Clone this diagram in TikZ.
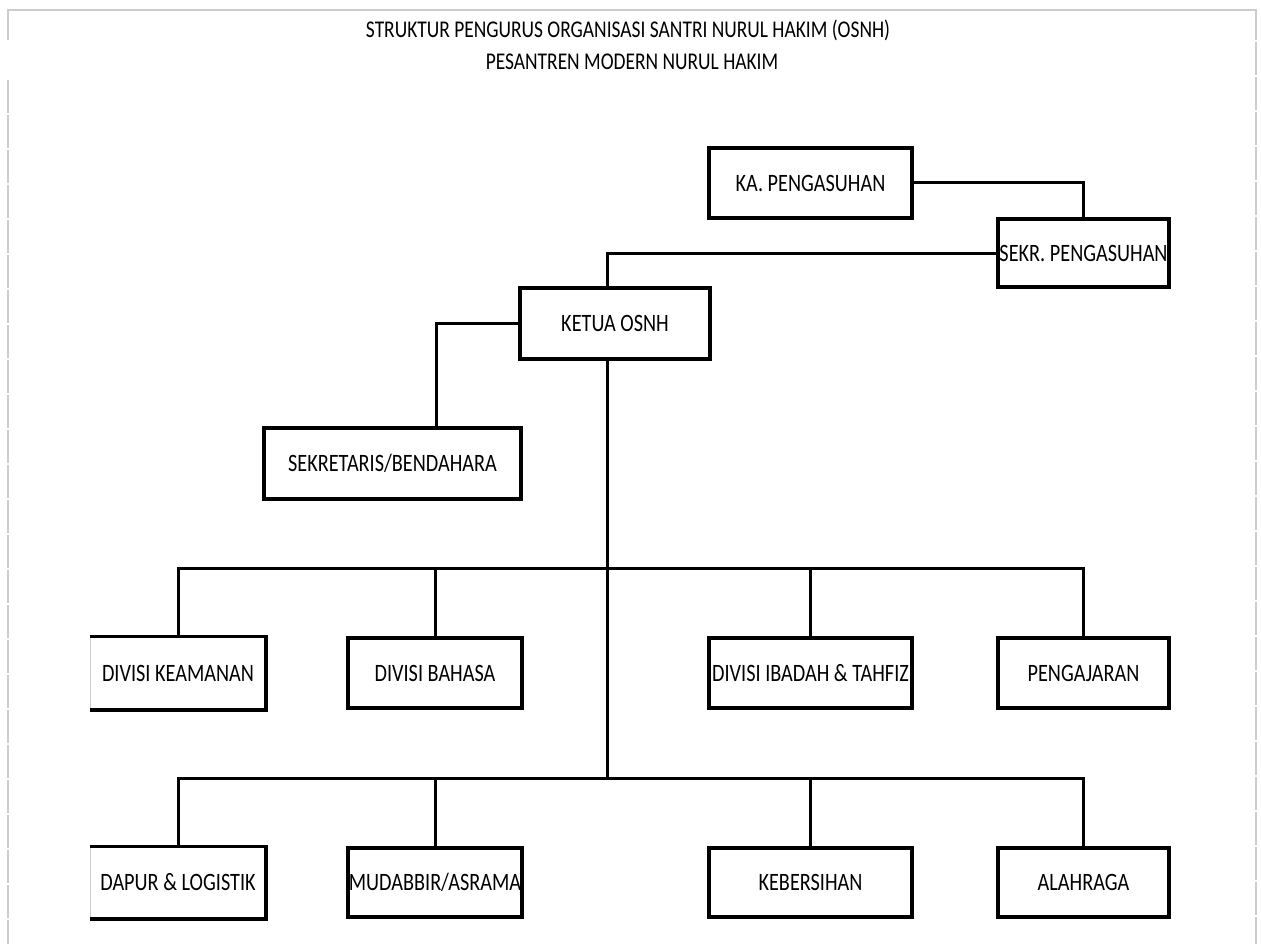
\documentclass[tikz,border=0pt]{standalone}
\usepackage{fontspec}
\setmainfont[FakeStretch=0.81]{Carlito}
\usepackage{tikz}
\tikzstyle{unit} = [draw=black, line width=3.5pt, inner sep=0pt, minimum height=70pt, font={\fontsize{25}{29}\selectfont}]
\tikzstyle{openunit} = [unit, draw=none]
\tikzstyle{link} = [draw=black, line width=3pt]
\tikzstyle{sheet} = [draw=black!20, line width=1.2pt]
\tikzstyle{heading} = [font={\fontsize{24}{28}\selectfont}]

\begin{document}
\begin{tikzpicture}[x=1pt,y=-1pt]
    \useasboundingbox (0,0) rectangle (1261,944);
    % sheet frame
    \draw[sheet] (8,40) -- (8,10) -- (1256,10) -- (1256,40);
    \draw[sheet, dash pattern=on 33pt off 2pt] (8,80) -- (8,944);
    \draw[sheet, dash pattern=on 33pt off 2pt] (1256,42) -- (1256,944);
    \node[heading](title) at (628,30){STRUKTUR PENGURUS ORGANISASI SANTRI NURUL HAKIM (OSNH)};
    \node[heading](subtitle) at (632,62){PESANTREN MODERN NURUL HAKIM};
    % pimpinan
    \node[unit, minimum width=203pt](ka) at (810.5,183){KA. PENGASUHAN};
    \node[unit, minimum width=171pt, minimum height=68pt](sekr) at (1083.5,253){SEKR. PENGASUHAN};
    \node[unit, minimum width=190pt, minimum height=71pt](ketua) at (615,323.5){KETUA OSNH};
    \node[unit, minimum width=257pt, minimum height=71pt](sekben) at (392.5,463.5){SEKRETARIS/BENDAHARA};
    % divisi
    \node[openunit, minimum width=172pt](keamanan) at (178,673){DIVISI KEAMANAN};
    \node[unit, minimum width=174pt](bahasa) at (435,673){DIVISI BAHASA};
    \node[unit, minimum width=203pt](ibadah) at (810.5,673){DIVISI IBADAH \& TAHFIZ};
    \node[unit, minimum width=171pt](pengajaran) at (1083.5,673){PENGAJARAN};
    \node[openunit, minimum width=172pt, minimum height=69pt](dapur) at (178,882.5){DAPUR \& LOGISTIK};
    \node[unit, minimum width=174pt, minimum height=69pt](mudabbir) at (435,882.5){MUDABBIR/ASRAMA};
    \node[unit, minimum width=203pt, minimum height=69pt](kebersihan) at (810.5,882.5){KEBERSIHAN};
    \node[unit, minimum width=171pt, minimum height=69pt](alahraga) at (1083.5,882.5){ALAHRAGA};
    \foreach \n in {keamanan,dapur}{
      \draw[sheet] (\n.north west) -- (\n.south west);
      \draw[unit] (\n.north west) -- (\n.north east) -- (\n.south east) -- (\n.south west);
    }
    \coordinate (bus1) at (607,568);
    \coordinate (bus2) at (607,778);
    \draw[link](ka.east) -| (sekr.north);
    \draw[link](sekr.west) -| ([xshift=-8pt]ketua.north);
    \draw[link](ketua.west) -| ([xshift=43.5pt]sekben.north);
    \draw[link]([xshift=-8pt]ketua.south) -- (bus2);
    \draw[link](keamanan.north) |- (bus1) -| (pengajaran.north);
    \draw[link](dapur.north) |- (bus2) -| (alahraga.north);
    \foreach \n in {bahasa,ibadah}
      \draw[link](\n.north) -- (\n.north |- bus1);
    \foreach \n in {mudabbir,kebersihan}
      \draw[link](\n.north) -- (\n.north |- bus2);
  \end{tikzpicture}
\end{document}
